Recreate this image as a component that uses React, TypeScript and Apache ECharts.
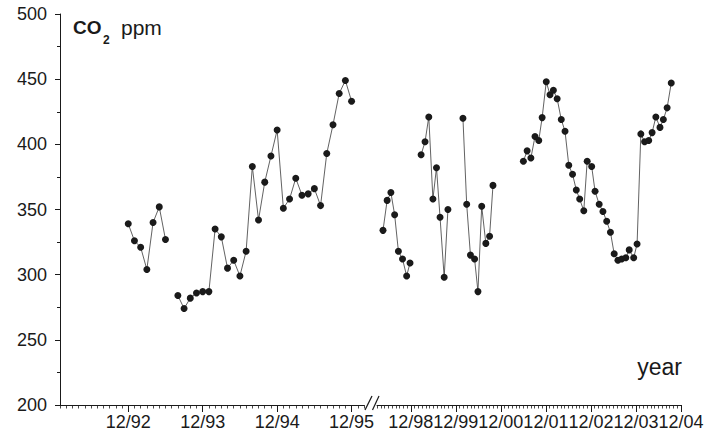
import React, { useEffect, useRef } from "react";
import * as echarts from "echarts";

// x values are months relative to 12/92 (left panel) and 12/98 (right panel)
const leftTickLabels = ["12/92", "12/93", "12/94", "12/95"];
const rightTickLabels = ["12/98", "12/99", "12/00", "12/01", "12/02", "12/03", "12/04"];

const seg1Months = [0, 1, 2, 3, 4, 5, 6];
const seg1Values = [339, 326, 321, 304, 340, 352, 327];

const seg2Months = [8, 9, 10, 11, 12, 13, 14, 15, 16, 17, 18, 19, 20, 21, 22, 23, 24, 25, 26, 27, 28, 29, 30, 31, 32, 33, 34, 35, 36];
const seg2Values = [284, 274, 282, 286, 287, 287, 335, 329, 305, 311, 299, 318, 383, 342, 371, 391, 411, 351, 358, 374, 361, 362, 366, 353, 393, 415, 439, 449, 433];

const seg3Months = [-7.4, -6.3, -5.3, -4.3, -3.3, -2.2, -1.1, -0.2];
const seg3Values = [334, 357, 363, 346, 318, 312, 299, 309];

const seg4Months = [2.75, 3.8, 4.8, 5.9, 6.85, 7.8, 8.9, 9.9];
const seg4Values = [392, 402, 421, 358, 382, 344, 298, 350];

const seg5Months = [13.9, 14.9, 15.9, 17.0, 17.9, 18.9, 20.0, 21.0, 21.9];
const seg5Values = [420, 354, 315, 312, 287, 352.5, 324, 329.5, 368.5];

const seg6Months = [30.0, 31.0, 32.0, 33.1, 34.1, 35.0, 36.1, 37.1, 38.0, 39.0, 40.1, 41.1, 42.1, 43.1, 44.1, 45.0, 46.1, 47.0, 48.2, 49.1, 50.2, 51.2, 52.2, 53.2, 54.2, 55.2, 56.2, 57.3, 58.2, 59.4, 60.3, 61.3, 62.3, 63.4, 64.3, 65.3, 66.4, 67.3, 68.3, 69.4];
const seg6Values = [387, 395, 389.5, 406, 403, 420.5, 448, 438, 441.5, 435, 419, 410, 384, 377, 365, 358, 349, 387, 383, 364, 354, 348.5, 341, 332.5, 316, 311, 312, 313, 319, 313, 323.5, 408, 402, 403, 409, 421, 413, 419, 428, 447];

const leftMajor = [0, 12, 24, 36];
const rightMajor = [0, 12, 24, 36, 48, 60, 72];

const FONT = "Liberation Sans, Arial, sans-serif";
const INK = "#1a1a1a";

function pairs(ms: number[], vs: number[]) {
  return ms.map((m, i) => [m, vs[i]]);
}

export default function App() {
  const ref = useRef<HTMLDivElement>(null);
  useEffect(() => {
    if (!ref.current) return;
    const chart = echarts.init(ref.current, undefined, { renderer: "svg" });
    const lineSeries = (data: number[][], xi: number, yi: number) => ({
      type: "line",
      data,
      xAxisIndex: xi,
      yAxisIndex: yi,
      symbol: "circle",
      symbolSize: 7,
      showSymbol: true,
      itemStyle: { color: INK, borderWidth: 0 },
      lineStyle: { color: "#3a3a3a", width: 0.8 },
      emphasis: { disabled: true },
    });
    const minorX = (grid: number, min: number, max: number) => ({
      type: "value",
      gridIndex: grid,
      position: "bottom",
      offset: 0,
      min,
      max,
      interval: 1,
      axisLine: { show: true, onZero: false, lineStyle: { color: INK, width: 1 } },
      axisTick: { show: true, length: 3.5, lineStyle: { color: INK, width: 0.8 } },
      axisLabel: { show: false },
      splitLine: { show: false },
    });
    const majorX = (grid: number, min: number, max: number, ticks: number[], labels: string[]) => ({
      type: "value",
      gridIndex: grid,
      position: "bottom",
      offset: 0,
      min,
      max,
      axisLine: { show: false, onZero: false },
      axisTick: { show: true, length: 7, customValues: ticks, lineStyle: { color: INK, width: 1 } },
      axisLabel: {
        show: true,
        customValues: ticks,
        margin: 8,
        fontSize: 18,
        fontFamily: FONT,
        color: INK,
        formatter: (v: number) => labels[Math.round(v / 12)] ?? "",
      },
      splitLine: { show: false },
    });
    chart.setOption({
      animation: false,
      backgroundColor: "#ffffff",
      grid: [
        { left: 60, top: 14, width: 304, height: 391, outerBoundsMode: "none", containLabel: false },
        { left: 377, top: 14, width: 304, height: 391, outerBoundsMode: "none", containLabel: false },
      ],
      xAxis: [
        minorX(0, -11, 38),
        majorX(0, -11, 38, leftMajor, leftTickLabels),
        minorX(1, -9, 72),
        majorX(1, -9, 72, rightMajor, rightTickLabels),
      ],
      yAxis: [
        {
          type: "value",
          gridIndex: 0,
          position: "left",
          min: 200,
          max: 500,
          interval: 50,
          axisLine: { show: true, onZero: false, lineStyle: { color: INK, width: 1 } },
          axisTick: { show: true, length: 5, lineStyle: { color: INK, width: 1 } },
          minorTick: { show: true, splitNumber: 2, length: 3, lineStyle: { color: INK, width: 1 } },
          axisLabel: { margin: 13, fontSize: 18, fontFamily: FONT, color: INK },
          splitLine: { show: false },
          minorSplitLine: { show: false },
        },
        {
          type: "value",
          gridIndex: 1,
          min: 200,
          max: 500,
          interval: 50,
          show: false,
          splitLine: { show: false },
        },
      ],
      series: [
        lineSeries(pairs(seg1Months, seg1Values), 0, 0),
        lineSeries(pairs(seg2Months, seg2Values), 0, 0),
        lineSeries(pairs(seg3Months, seg3Values), 2, 1),
        lineSeries(pairs(seg4Months, seg4Values), 2, 1),
        lineSeries(pairs(seg5Months, seg5Values), 2, 1),
        lineSeries(pairs(seg6Months, seg6Values), 2, 1),
      ],
      graphic: [
        { type: "text", left: 73, top: 18, style: { text: "CO", fontSize: 19, fontWeight: "bold", fontFamily: FONT, fill: INK } },
        { type: "text", left: 103, top: 34, style: { text: "2", fontSize: 12, fontWeight: "bold", fontFamily: FONT, fill: INK } },
        { type: "text", left: 121, top: 17, style: { text: "ppm", fontSize: 21, fontFamily: FONT, fill: INK } },
        { type: "text", right: 26, top: 355, style: { text: "year", fontSize: 23, fontFamily: FONT, fill: INK } },
        { type: "line", shape: { x1: 365, y1: 410, x2: 372, y2: 396 }, style: { stroke: INK, lineWidth: 1.2 } },
        { type: "line", shape: { x1: 372.5, y1: 410, x2: 379, y2: 396 }, style: { stroke: INK, lineWidth: 1.2 } },
      ],
    });
    return () => chart.dispose();
  }, []);
  return <div ref={ref} style={{ position: "fixed", left: 0, top: 0, width: 708, height: 443 }} />;
}
